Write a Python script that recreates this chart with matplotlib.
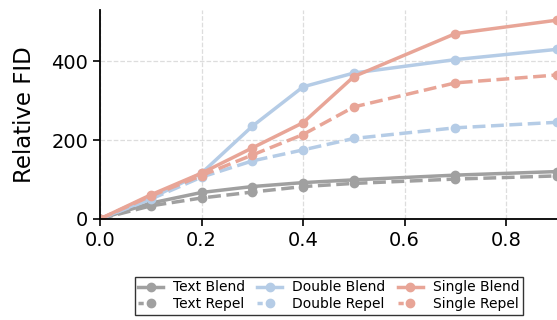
import matplotlib
matplotlib.use("Agg")
import matplotlib.pyplot as plt

# strength values on the x axis
x_vals = [0.0, 0.1, 0.2, 0.3, 0.4, 0.5, 0.7, 0.9]

text_blend = [0, 40, 67, 82, 92, 99, 111, 120]
text_repel = [0, 33, 53, 68, 82, 90, 101, 109]
double_blend = [0, 52, 116, 235, 335, 370, 404, 430]
double_repel = [0, 50, 106, 147, 175, 204, 231, 245]
single_blend = [0, 61, 116, 180, 244, 361, 470, 504]
single_repel = [0, 58, 110, 162, 214, 284, 345, 365]

gray = '#a0a0a0'
blue = '#b5cce6'
red = '#e8a597'

fig = plt.figure(figsize=(5.57, 3.2), dpi=100)
ax = fig.add_axes([0.1795, 0.316, 0.8205, 0.653])

lw = 2.5
ms = 6
ax.plot(x_vals, text_blend, '-o', color=gray, lw=lw, ms=ms, label='Text Blend')
ax.plot(x_vals, text_repel, '--o', color=gray, lw=lw, ms=ms, label='Text Repel')
ax.plot(x_vals, double_blend, '-o', color=blue, lw=lw, ms=ms, label='Double Blend')
ax.plot(x_vals, double_repel, '--o', color=blue, lw=lw, ms=ms, label='Double Repel')
ax.plot(x_vals, single_blend, '-o', color=red, lw=lw, ms=ms, label='Single Blend')
ax.plot(x_vals, single_repel, '--o', color=red, lw=lw, ms=ms, label='Single Repel')

ax.set_xlim(0, 0.9)
ax.set_ylim(0, 530)
ax.set_xticks([0.0, 0.2, 0.4, 0.6, 0.8])
ax.set_yticks([0, 200, 400])
ax.tick_params(labelsize=14, width=1.2, length=5)
ax.set_ylabel('Relative FID', fontsize=16.5, labelpad=11)
ax.grid(True, linestyle='--', color='#dddddd', lw=0.9)
ax.spines['top'].set_visible(False)
ax.spines['right'].set_visible(False)
for s in ['left', 'bottom']:
    ax.spines[s].set_linewidth(1.3)

leg = fig.legend(loc='lower center', bbox_to_anchor=(0.59, -0.005), ncol=3,
                 fontsize=10, frameon=True, fancybox=False, edgecolor='black',
                 handlelength=1.8, columnspacing=0.9, handletextpad=0.7,
                 labelspacing=0.2, borderpad=0.25)
leg.get_frame().set_linewidth(1.0)
# dashed handles only show a short stub next to the marker
for h in leg.legend_handles:
    if h.get_linestyle() == '--':
        h.set_linestyle((0, (1.5, 8)))

fig.savefig('out.png', dpi=100)
